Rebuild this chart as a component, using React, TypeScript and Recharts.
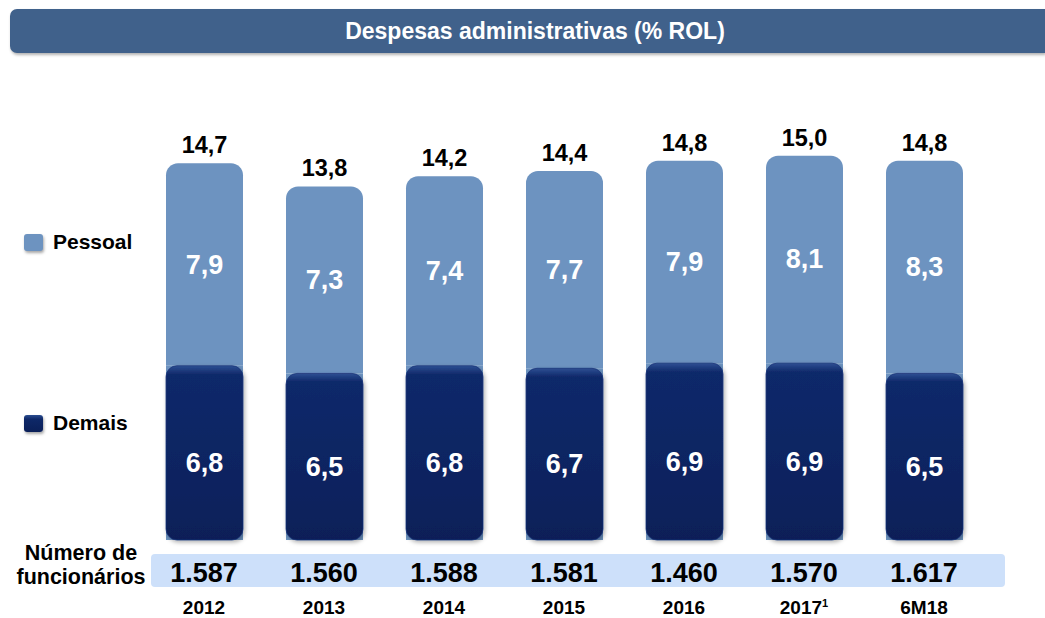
import React from 'react';
import { BarChart, Bar, XAxis, YAxis, LabelList, Legend } from 'recharts';

const years = ['2012', '2013', '2014', '2015', '2016', '2017', '6M18'];
const yearNotes = ['', '', '', '', '', '1', ''];
const pessoal = [7.9, 7.3, 7.4, 7.7, 7.9, 8.1, 8.3];
const demais = [6.8, 6.5, 6.8, 6.7, 6.9, 6.9, 6.5];
const funcionarios = [1587, 1560, 1588, 1581, 1460, 1570, 1617];

const LIGHT = '#6d93c0';
const DARK = '#0c2461';
const FONT = '"Liberation Sans", Arial, Helvetica, sans-serif';

const data = years.map((year, i) => ({
  year,
  note: yearNotes[i],
  pessoal: pessoal[i],
  demais: demais[i],
  total: +(pessoal[i] + demais[i]).toFixed(1),
  staff: funcionarios[i],
}));

const fmt1 = (v: number) => v.toFixed(1).replace('.', ',');
const fmtInt = (n: number) => String(n).replace(/\B(?=(\d{3})+(?!\d))/g, '.');

const box = (p: any) => p.viewBox ?? p;

// total above the light bar
const renderTotal = (p: any) => {
  const { x, y, width } = box(p);
  return (
    <text x={x + width / 2} y={y - 10} textAnchor="middle" fontSize={23.5} fontWeight="bold" fill="#000" fontFamily={FONT}>
      {fmt1(Number(p.value))}
    </text>
  );
};

// white value inside a segment
const renderInner = (shift: number) => (p: any) => {
  const { x, y, width, height } = box(p);
  return (
    <text x={x + width / 2} y={y + height / 2 + 9 + shift} textAnchor="middle" fontSize={27} fontWeight="bold" fill="#fff" fontFamily={FONT}>
      {fmt1(Number(p.value))}
    </text>
  );
};

const DarkBar = (p: any) => {
  const { x, y, width, height } = p;
  if (!height) return null;
  return (
    <g filter="url(#barShadow)">
      <rect x={x} y={y} width={width} height={height} rx={11} ry={11} fill="url(#darkGrad)" stroke="#1a3578" strokeWidth={0.8} />
    </g>
  );
};

const YearTick = (p: any) => {
  const { x, y, payload } = p;
  const row = data.find((d) => d.year === payload.value);
  if (!row) return null;
  return (
    <g fontFamily={FONT} fontWeight="bold" fill="#000">
      <text x={x} y={y + 42} textAnchor="middle" fontSize={27}>
        {fmtInt(row.staff)}
      </text>
      <text x={x} y={y + 74} textAnchor="middle" fontSize={19}>
        {row.year}
        {row.note && (
          <tspan fontSize={11} dy={-7}>
            {row.note}
          </tspan>
        )}
      </text>
    </g>
  );
};

const LegendBlock = () => {
  const item = (top: number, label: string, dark: boolean) => (
    <div style={{ position: 'absolute', left: 24, top, display: 'flex', alignItems: 'center' }}>
      <div
        style={{
          width: 19,
          height: 17,
          borderRadius: 3,
          background: dark ? 'linear-gradient(#2b4d90, #0e2868 25%, #0a1f58)' : LIGHT,
          boxShadow: '1px 2px 3px rgba(0,0,0,0.35)',
        }}
      />
      <span style={{ marginLeft: 10, fontSize: 21, fontWeight: 'bold', color: '#000', fontFamily: FONT }}>{label}</span>
    </div>
  );
  return (
    <div style={{ position: 'relative', width: 150, height: 618 }}>
      {item(230, 'Pessoal', false)}
      {item(411, 'Demais', true)}
    </div>
  );
};

export default function App() {
  return (
    <div style={{ position: 'absolute', left: 0, top: 0, width: 1045, height: 618, background: '#fff', fontFamily: FONT, overflow: 'hidden' }}>
      {/* title bar */}
      <div
        style={{
          position: 'absolute',
          left: 10,
          top: 9,
          width: 1035,
          height: 44,
          background: '#40618b',
          borderRadius: '7px 0 0 7px',
          boxShadow: '1px 2px 3px rgba(0,0,0,0.3)',
          color: '#fff',
          fontSize: 23,
          fontWeight: 'bold',
          lineHeight: '44px',
          textAlign: 'center',
          paddingLeft: 15,
          boxSizing: 'border-box',
        }}
      >
        Despesas administrativas (% ROL)
      </div>

      {/* employees band */}
      <div style={{ position: 'absolute', left: 151, top: 554, width: 854, height: 33, background: '#cde0fa', borderRadius: 4 }} />

      <div
        style={{
          position: 'absolute',
          left: 8,
          top: 541,
          width: 146,
          textAlign: 'center',
          fontSize: 21.5,
          fontWeight: 'bold',
          lineHeight: '24px',
          color: '#000',
        }}
      >
        Número de
        <br />
        funcionários
      </div>

      <div style={{ position: 'absolute', left: 0, top: 0 }}>
        <BarChart width={1045} height={618} data={data} margin={{ top: 130, right: 61, left: 144, bottom: 0 }}>
          <defs>
            <linearGradient id="darkGrad" x1="0" y1="0" x2="0" y2="1">
              <stop offset="0%" stopColor="#2d4f93" />
              <stop offset="5%" stopColor="#10296a" />
              <stop offset="60%" stopColor={DARK} />
              <stop offset="100%" stopColor="#0a1f58" />
            </linearGradient>
            <filter id="barShadow" x="-10%" y="-10%" width="130%" height="130%">
              <feDropShadow dx="1.5" dy="2" stdDeviation="2" floodColor="#000" floodOpacity="0.3" />
            </filter>
          </defs>
          <XAxis
            xAxisId="base"
            dataKey="year"
            height={78}
            axisLine={false}
            tickLine={false}
            tickSize={0}
            tickMargin={0}
            interval={0}
            tick={<YearTick />}
          />
          <XAxis xAxisId="over" dataKey="year" hide />
          <YAxis hide domain={[0, 16]} />
          <Legend
            layout="horizontal"
            align="center"
            verticalAlign="middle"
            content={() => <LegendBlock />}
            wrapperStyle={{ left: 0, top: 0, width: 150, height: 618 }}
          />
          <Bar xAxisId="base" dataKey="demais" stackId="bg" fill={LIGHT} barSize={77} legendType="none" isAnimationActive={false} />
          <Bar xAxisId="base" dataKey="pessoal" name="Pessoal" stackId="bg" fill={LIGHT} barSize={77} radius={[12, 12, 0, 0]} isAnimationActive={false}>
            <LabelList dataKey="pessoal" content={renderInner(0)} />
            <LabelList dataKey="total" content={renderTotal} />
          </Bar>
          <Bar xAxisId="over" dataKey="demais" name="Demais" fill={DARK} barSize={77} shape={<DarkBar />} isAnimationActive={false}>
            <LabelList dataKey="demais" content={renderInner(10)} />
          </Bar>
        </BarChart>
      </div>
    </div>
  );
}
